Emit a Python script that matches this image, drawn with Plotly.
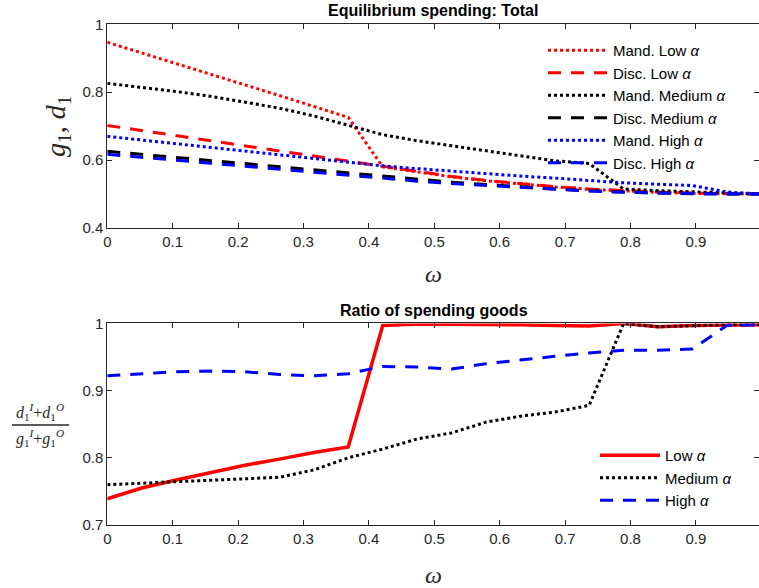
import plotly.graph_objects as go

# ---------------- data ----------------
omega = [0.0, 0.0526, 0.1053, 0.1579, 0.2105, 0.2632, 0.3158, 0.3684, 0.4211, 0.4737,
         0.5263, 0.5789, 0.6316, 0.6842, 0.7368, 0.7895, 0.8421, 0.8947, 0.9474, 1.0]

mand_low = [0.947, 0.916, 0.884, 0.853, 0.821, 0.790, 0.758, 0.726, 0.580, 0.565,
            0.551, 0.539, 0.529, 0.521, 0.514, 0.509, 0.505, 0.502, 0.501, 0.500]
disc_low = [0.702, 0.687, 0.672, 0.657, 0.642, 0.627, 0.612, 0.597, 0.582, 0.566,
            0.552, 0.540, 0.530, 0.522, 0.515, 0.510, 0.506, 0.503, 0.501, 0.500]
mand_med = [0.826, 0.815, 0.802, 0.788, 0.771, 0.753, 0.730, 0.703, 0.675, 0.657,
            0.642, 0.626, 0.612, 0.598, 0.590, 0.515, 0.510, 0.506, 0.502, 0.500]
disc_med = [0.626, 0.617, 0.608, 0.599, 0.590, 0.581, 0.572, 0.562, 0.552, 0.543,
            0.535, 0.528, 0.521, 0.515, 0.510, 0.506, 0.503, 0.501, 0.500, 0.500]
mand_high = [0.670, 0.659, 0.648, 0.637, 0.626, 0.615, 0.604, 0.593, 0.583, 0.575,
             0.567, 0.560, 0.553, 0.547, 0.540, 0.533, 0.529, 0.525, 0.506, 0.500]
disc_high = [0.617, 0.609, 0.600, 0.591, 0.582, 0.573, 0.564, 0.555, 0.546, 0.538,
             0.531, 0.525, 0.519, 0.514, 0.509, 0.505, 0.503, 0.501, 0.500, 0.500]

ratio_low = [0.739, 0.755, 0.767, 0.778, 0.789, 0.798, 0.808, 0.816, 0.997, 0.999,
             0.999, 0.998, 0.998, 0.997, 0.996, 1.000, 0.995, 0.997, 0.998, 0.998]
ratio_med = [0.760, 0.762, 0.764, 0.766, 0.768, 0.771, 0.782, 0.800, 0.813, 0.828,
             0.837, 0.853, 0.862, 0.868, 0.878, 1.000, 0.995, 0.997, 0.998, 0.998]
ratio_high = [0.922, 0.925, 0.928, 0.929, 0.928, 0.924, 0.922, 0.925, 0.936, 0.935,
              0.932, 0.940, 0.946, 0.951, 0.956, 0.960, 0.960, 0.962, 0.997, 0.998]

x_ticks = [0, 0.1, 0.2, 0.3, 0.4, 0.5, 0.6, 0.7, 0.8, 0.9]
x_ticklabels = ["0", "0.1", "0.2", "0.3", "0.4", "0.5", "0.6", "0.7", "0.8", "0.9"]
top_yticks = [0.4, 0.6, 0.8, 1.0]
top_yticklabels = ["0.4", "0.6", "0.8", "1"]
bot_yticks = [0.7, 0.8, 0.9, 1.0]
bot_yticklabels = ["0.7", "0.8", "0.9", "1"]

top_title = "Equilibrium spending: Total"
bot_title = "Ratio of spending goods"

# ---------------- styling ----------------
W, H = 759, 588
RED, BLACK, BLUE = "#FF0000", "#000000", "#0000FF"
DASH = "13px,10px"
AX = "#262626"
FONT = "Liberation Sans, Arial, sans-serif"
SERIF = "Liberation Serif, DejaVu Serif, serif"
LW = 3
LEG_FS = 15

fig = go.Figure()

top_series = [
    ("Mand. Low <i>α</i>", mand_low, RED, "dot"),
    ("Disc. Low <i>α</i>", disc_low, RED, DASH),
    ("Mand. Medium <i>α</i>", mand_med, BLACK, "dot"),
    ("Disc. Medium <i>α</i>", disc_med, BLACK, DASH),
    ("Mand. High <i>α</i>", mand_high, BLUE, "dot"),
    ("Disc. High <i>α</i>", disc_high, BLUE, DASH),
]
for name, ys, col, dash in top_series:
    fig.add_trace(go.Scatter(x=omega, y=ys, mode="lines", name=name,
                             line=dict(color=col, width=LW, dash=dash),
                             xaxis="x", yaxis="y", legend="legend"))

bot_series = [
    ("Low <i>α</i>", ratio_low, RED, "solid"),
    ("Medium <i>α</i>", ratio_med, BLACK, "dot"),
    ("High <i>α</i>", ratio_high, BLUE, DASH),
]
for name, ys, col, dash in bot_series:
    fig.add_trace(go.Scatter(x=omega, y=ys, mode="lines", name=name,
                             line=dict(color=col, width=LW + (0.5 if dash == "solid" else 0), dash=dash),
                             xaxis="x2", yaxis="y2", legend="legend2"))

x0 = 107.3 / W
xmax = (W - 107.3) / 654.0


def px_y(p):
    return 1 - p / H


axis_common = dict(showline=True, linecolor=AX, linewidth=1, mirror="ticks",
                   ticks="inside", ticklen=5, tickcolor=AX, showgrid=False,
                   zeroline=False, automargin=False,
                   tickfont=dict(family=FONT, size=15, color=AX))

fig.update_layout(
    template="none",
    width=W, height=H,
    margin=dict(l=0, r=0, t=0, b=0, pad=0, autoexpand=False),
    paper_bgcolor="white", plot_bgcolor="white",
    xaxis=dict(domain=[x0, 1], range=[0, xmax], anchor="y",
               tickvals=x_ticks, ticktext=x_ticklabels, **axis_common),
    yaxis=dict(domain=[px_y(228), px_y(24.3)], range=[0.4, 1.0], anchor="x",
               tickvals=top_yticks, ticktext=top_yticklabels, **axis_common),
    xaxis2=dict(domain=[x0, 1], range=[0, xmax], anchor="y2",
                tickvals=x_ticks, ticktext=x_ticklabels, **axis_common),
    yaxis2=dict(domain=[px_y(525), px_y(323.4)], range=[0.7, 1.0], anchor="x2",
                tickvals=bot_yticks, ticktext=bot_yticklabels, **axis_common),
    legend=dict(x=543 / W, y=px_y(34), xanchor="left", yanchor="top",
                bgcolor="rgba(0,0,0,0)", borderwidth=0, itemwidth=60,
                font=dict(family=FONT, size=LEG_FS, color="#000000"),
                tracegroupgap=0),
    legend2=dict(x=595 / W, y=px_y(439), xanchor="left", yanchor="top",
                 bgcolor="rgba(0,0,0,0)", borderwidth=0, itemwidth=60,
                 font=dict(family=FONT, size=LEG_FS, color="#000000"),
                 tracegroupgap=0),
    showlegend=True,
)

ann = [
    dict(text="<b>" + top_title + "</b>", x=433 / W, y=px_y(11), xref="paper", yref="paper",
         showarrow=False, font=dict(family=FONT, size=16, color="#000000"),
         xanchor="center", yanchor="middle"),
    dict(text="<b>" + bot_title + "</b>", x=434 / W, y=px_y(310), xref="paper", yref="paper",
         showarrow=False, font=dict(family=FONT, size=16, color="#000000"),
         xanchor="center", yanchor="middle"),
    dict(text="<i>ω</i>", x=433 / W, y=px_y(274), xref="paper", yref="paper",
         showarrow=False, font=dict(family=SERIF, size=24, color=AX),
         xanchor="center", yanchor="middle"),
    dict(text="<i>ω</i>", x=433 / W, y=px_y(575), xref="paper", yref="paper",
         showarrow=False, font=dict(family=SERIF, size=24, color=AX),
         xanchor="center", yanchor="middle"),
    dict(text="<i>g</i><sub>1</sub>, <i>d</i><sub>1</sub>", x=57 / W, y=px_y(126),
         xref="paper", yref="paper", textangle=-90, showarrow=False,
         font=dict(family=SERIF, size=28, color=AX), xanchor="center", yanchor="middle"),
    dict(text="<i>d</i><sub>1</sub><sup><i>I</i></sup>+<i>d</i><sub>1</sub><sup><i>O</i></sup>",
         x=40 / W, y=px_y(412), xref="paper", yref="paper", showarrow=False,
         font=dict(family=SERIF, size=16, color=AX), xanchor="center", yanchor="middle"),
    dict(text="<i>g</i><sub>1</sub><sup><i>I</i></sup>+<i>g</i><sub>1</sub><sup><i>O</i></sup>",
         x=40 / W, y=px_y(438), xref="paper", yref="paper", showarrow=False,
         font=dict(family=SERIF, size=16, color=AX), xanchor="center", yanchor="middle"),
]
fig.update_layout(annotations=ann)
fig.add_shape(type="line", xref="paper", yref="paper",
              x0=12 / W, x1=69 / W, y0=px_y(425), y1=px_y(425),
              line=dict(color=AX, width=1.5))

fig.write_html("out.html")
